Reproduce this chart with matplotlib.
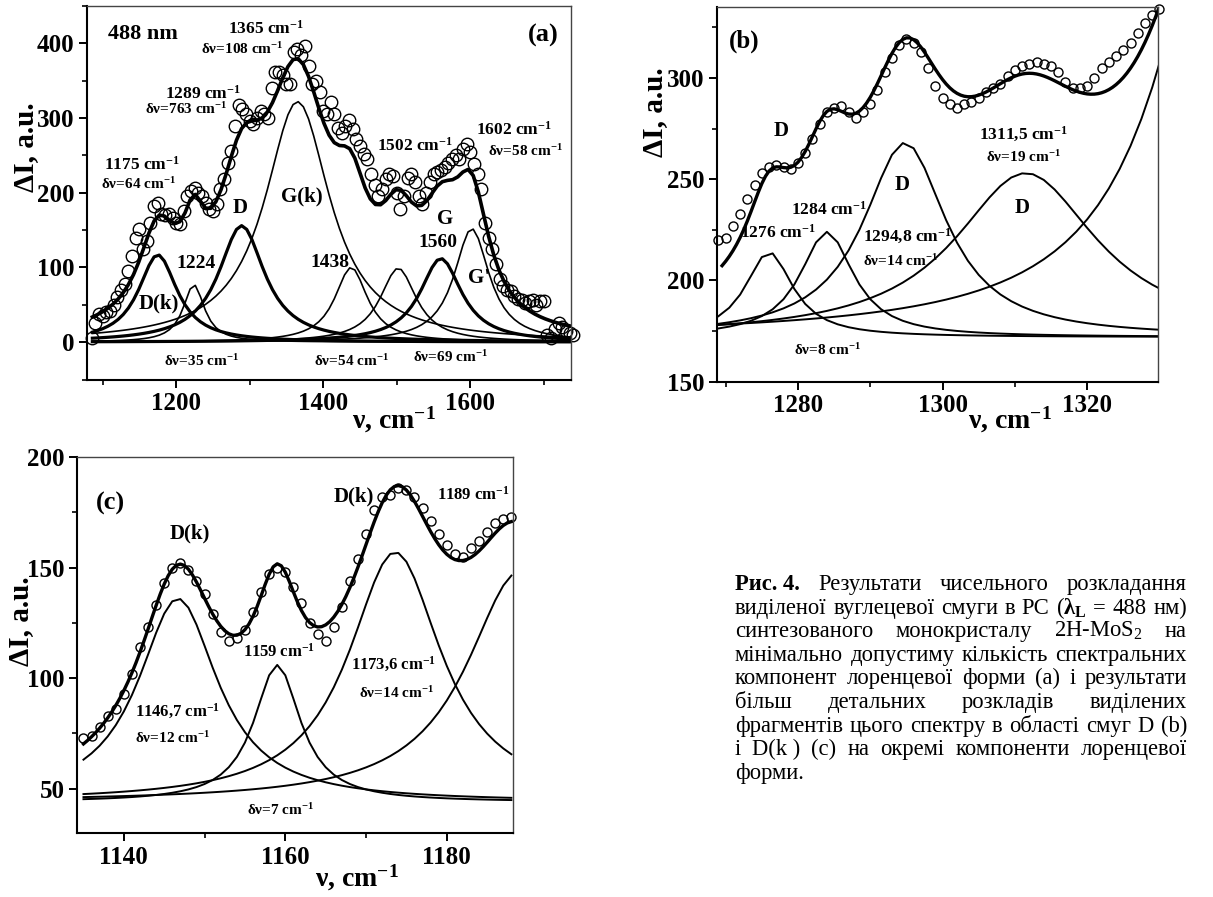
import numpy as np
import matplotlib.pyplot as plt
from matplotlib.ticker import MultipleLocator

plt.rcParams['font.family'] = ['Liberation Serif', 'DejaVu Serif']
plt.rcParams['font.weight'] = 'bold'
plt.rcParams['mathtext.fontset'] = 'custom'
plt.rcParams['mathtext.rm'] = 'Liberation Serif:weight=normal'
plt.rcParams['mathtext.it'] = 'Liberation Serif:style=italic:weight=normal'
plt.rcParams['mathtext.bf'] = 'Liberation Serif:weight=bold'
plt.rcParams['mathtext.default'] = 'bf'

CM = r' cm$^{-1}$'

# (a) carbon band, 488 nm excitation
nu_a = np.arange(1085, 1741, 5)
I_a = [5, 25, 38, 35, 40, 42, 50, 60, 70, 78,
       95, 115, 140, 152, 125, 135, 160, 182, 186, 172,
       170, 172, 166, 160, 158, 175, 195, 203, 207, 200,
       195, 186, 178, 175, 185, 205, 218, 240, 256, 290,
       318, 312, 305, 296, 292, 300, 310, 305, 300, 340,
       362, 362, 358, 345, 345, 388, 392, 385, 397, 370,
       345, 350, 335, 310, 305, 322, 305, 287, 280, 290,
       298, 285, 272, 262, 252, 245, 225, 210, 195, 205,
       218, 225, 222, 200, 178, 195, 220, 225, 215, 195,
       185, 200, 215, 225, 228, 230, 235, 240, 245, 250,
       245, 258, 265, 255, 238, 225, 205, 160, 140, 125,
       105, 85, 75, 70, 68, 62, 58, 56, 52, 55,
       56, 50, 55, 55, 10, 5, 18, 25, 20, 15,
       12, 10]
pos_a = [1175, 1224, 1289, 1365, 1438, 1502, 1560, 1602]
fwhm_a = [64, 35, 76, 108, 54, 60, 69, 58]
amp_a = [117, 77, 156, 322, 100, 99, 112, 152]
thick_a = [True, False, True, False, False, False, True, False]
base_a = 0

# (b) D band detail
nu_b = np.arange(1269, 1331)
I_b = [220, 221, 227, 233, 240, 247, 253, 256, 257, 256,
       255, 258, 263, 270, 277, 283, 285, 286, 283, 280,
       283, 287, 294, 303, 310, 316, 319, 317, 313, 305,
       296, 290, 287, 285, 287, 288, 290, 293, 295, 297,
       301, 304, 306, 307, 308, 307, 306, 303, 298, 295,
       295, 296, 300, 305, 308, 311, 314, 317, 322, 327,
       331, 334]
pos_b = [1276, 1284, 1294.8, 1311.5, 1341]
fwhm_b = [8, 9, 14, 24, 22]
amp_b = [42, 52, 96, 81, 270]
base_b = 172

# (c) D(k) band detail
nu_c = np.arange(1135, 1189)
I_c = [73, 74, 78, 83, 86, 93, 102, 114, 123, 133,
       143, 150, 152, 149, 144, 138, 129, 121, 117, 118,
       122, 130, 139, 147, 150, 148, 141, 134, 125, 120,
       117, 123, 132, 144, 154, 165, 176, 182, 183, 186,
       185, 182, 177, 171, 165, 160, 156, 155, 159, 162,
       166, 170, 172, 173]
pos_c = [1146.7, 1159, 1173.6, 1189]
fwhm_c = [12, 7, 14, 16]
amp_c = [92, 62, 113, 104]
base_c = 44

caption = [
    ['Рис. 4.', 'Результати', 'чисельного', 'розкладання'],
    ['виділеної', 'вуглецевої', 'смуги', 'в', 'РС',
     r'($\mathbf{λ}_\mathbf{L}$', '=', '488', 'нм)'],
    ['синтезованого', 'монокристалу', r'2H-MoS$_\mathrm{2}$', 'на'],
    ['мінімально', 'допустиму', 'кількість', 'спектральних'],
    ['компонент', 'лоренцевої', 'форми', '(a)', 'і', 'результати'],
    ['більш', 'детальних', 'розкладів', 'виділених'],
    ['фрагментів', 'цього', 'спектру', 'в', 'області', 'смуг', 'D', '(b)'],
    ['і', 'D(k )', '(c)', 'на', 'окремі', 'компоненти', 'лоренцевої'],
    ['форми.'],
]


def lorentz(x, x0, fwhm, amp):
    return amp / (1 + 4 * ((x - x0) / fwhm) ** 2)


W, H = 1213, 897
fig = plt.figure(figsize=(W / 100, H / 100), dpi=100)


def add_axes_px(l, t, r, b):
    return fig.add_axes([l / W, 1 - b / H, (r - l) / W, (b - t) / H])


def style(ax, xstep, ystep):
    ax.xaxis.set_major_locator(MultipleLocator(xstep))
    ax.xaxis.set_minor_locator(MultipleLocator(xstep / 2))
    ax.yaxis.set_major_locator(MultipleLocator(ystep))
    ax.yaxis.set_minor_locator(MultipleLocator(ystep / 2))
    ax.tick_params(which='major', direction='out', length=6, width=1.4,
                   labelsize=18, pad=3)
    ax.tick_params(which='minor', direction='out', length=3.5, width=1.2)
    ax.tick_params(which='both', top=False, right=False)
    for s in ('left', 'bottom'):
        ax.spines[s].set_linewidth(1.5)
    for s in ('top', 'right'):
        ax.spines[s].set_linewidth(1.0)
        ax.spines[s].set_color('#444444')


def note(ax, x, y, s, size, ha='center'):
    ax.text(x, y, s, fontsize=size, ha=ha, va='center', fontweight='bold')


def fig_text(x, y, s, size, rot=0):
    fig.text(x / W, 1 - y / H, s, fontsize=size, rotation=rot,
             ha='center', va='center', fontweight='bold')


# ---------- (a) ----------
ax = add_axes_px(87, 6, 571, 379.5)
ax.plot(nu_a, I_a, 'o', ms=9, mfc='none', mec='k', mew=1.0, clip_on=False)
xa = np.arange(1086, 1741, 7.0)
fit_a = np.full_like(xa, base_a)
for p, w, a, thick in zip(pos_a, fwhm_a, amp_a, thick_a):
    comp = lorentz(xa, p, w, a)
    fit_a += comp
    ax.plot(xa, base_a + comp, 'k-', lw=2.3 if thick else 1.2)
ax.plot(xa, fit_a, 'k-', lw=2.6)
ax.set_xlim(1078.7, 1737)
ax.set_ylim(-50, 450)
style(ax, 200, 100)

note(ax, 1107.9, 412, '488 nm', 16, ha='left')
note(ax, 1720, 410, '(a)', 19, ha='right')
note(ax, 1322.7, 420, '1365' + CM, 12.5)
note(ax, 1289.8, 392, 'δν=108' + CM, 11)
note(ax, 1236.6, 332, '1289' + CM, 12.5)
note(ax, 1213.9, 312, 'δν=763' + CM, 11)
note(ax, 1525, 263, '1502' + CM, 12.5)
note(ax, 1659.5, 285, '1602' + CM, 12.5)
note(ax, 1674.5, 256, 'δν=58' + CM, 11)
note(ax, 1153, 238, '1175' + CM, 12.5)
note(ax, 1148, 212, 'δν=64' + CM, 11)
note(ax, 1370.9, 195, 'G(k)', 15)
note(ax, 1287.3, 180, 'D', 15)
note(ax, 1565.8, 165, 'G', 15)
note(ax, 1555.7, 133, '1560', 14)
note(ax, 1226.5, 105, '1224', 14)
note(ax, 1408.9, 106, '1438', 14)
note(ax, 1611.4, 86, "G'", 15)
note(ax, 1175.9, 52, 'D(k)', 15)
note(ax, 1234, -25, 'δν=35' + CM, 11)
note(ax, 1439, -25, 'δν=54' + CM, 11)
note(ax, 1573.4, -20, 'δν=69' + CM, 11)

# ---------- (b) ----------
ax = add_axes_px(717, 7, 1158, 381.7)
ax.plot(nu_b, I_b, 'o', ms=6.5, mfc='none', mec='k', mew=1.0, clip_on=False)
xb = np.arange(1269, 1330.6, 1.5)
for p, w, a in zip(pos_b, fwhm_b, amp_b):
    ax.plot(xb, base_b + lorentz(xb, p, w, a), 'k-', lw=1.4)
xf = np.arange(1269.5, 1330.1, 0.5)
fit_b = base_b + sum(lorentz(xf, p, w, a) for p, w, a in zip(pos_b, fwhm_b, amp_b))
ax.plot(xf, fit_b, 'k-', lw=2.4)
ax.set_xlim(1268.8, 1329.8)
ax.set_ylim(150, 335)
style(ax, 20, 50)

note(ax, 1272.6, 318, '(b)', 18)
note(ax, 1277.7, 274, 'D', 15)
note(ax, 1294.4, 247, 'D', 15)
note(ax, 1311, 236, 'D', 15)
note(ax, 1311.2, 272, '1311,5' + CM, 12.5)
note(ax, 1311.2, 261, 'δν=19' + CM, 11)
note(ax, 1284.3, 235, '1284' + CM, 12.5)
note(ax, 1277.2, 223.4, '1276' + CM, 12.5)
note(ax, 1295.1, 221.7, '1294,8' + CM, 12.5)
note(ax, 1294.2, 209.4, 'δν=14' + CM, 11)
note(ax, 1284.1, 165.8, 'δν=8' + CM, 11)

# ---------- (c) ----------
ax = add_axes_px(77, 457, 513, 833)
ax.plot(nu_c, I_c, 'o', ms=6.5, mfc='none', mec='k', mew=1.0, clip_on=False)
xc = np.arange(1135, 1188.1, 1.0)
for p, w, a in zip(pos_c, fwhm_c, amp_c):
    ax.plot(xc, base_c + lorentz(xc, p, w, a), 'k-', lw=1.4)
xf = np.arange(1135, 1188.05, 0.5)
fit_c = base_c + sum(lorentz(xf, p, w, a) for p, w, a in zip(pos_c, fwhm_c, amp_c))
ax.plot(xf, fit_c, 'k-', lw=2.4)
ax.set_xlim(1134.2, 1188.2)
ax.set_ylim(30, 200)
style(ax, 20, 50)

note(ax, 1138.3, 179, '(c)', 19)
note(ax, 1148.2, 165.5, 'D(k)', 15)
note(ax, 1168.5, 182, 'D(k)', 15)
note(ax, 1183.3, 182.8, '1189' + CM, 12)
note(ax, 1159.2, 112, '1159' + CM, 12)
note(ax, 1173.4, 106, '1173,6' + CM, 12)
note(ax, 1173.8, 93.2, 'δν=14' + CM, 11)
note(ax, 1146.6, 85, '1146,7' + CM, 12)
note(ax, 1146, 72.9, 'δν=12' + CM, 11)
note(ax, 1159.4, 40.5, 'δν=7' + CM, 11)

# axis titles
fig_text(26, 147, 'ΔI, a.u.', 21, rot=90)
fig_text(655, 112, 'ΔI, a.u.', 21, rot=90)
fig_text(21, 621, 'ΔI, a.u.', 21, rot=90)
fig_text(394, 420, r'ν, cm$^{-1}$', 20)
fig_text(1010, 420, r'ν, cm$^{-1}$', 20)
fig_text(357, 878, r'ν, cm$^{-1}$', 20)

# justified caption block
cap_left, cap_right = 735, 1187
cap_y0, cap_dy = 590, 23.6
min_gap = 4.5
renderer = fig.canvas.get_renderer()
for i, words in enumerate(caption):
    y = 1 - (cap_y0 + i * cap_dy) / H
    items = []
    for j, word in enumerate(words):
        wgt = 'bold' if (i == 0 and j == 0) else 'normal'
        items.append(fig.text(0, y, word, fontsize=16.3, fontweight=wgt,
                              ha='left', va='baseline'))
    widths = [t.get_window_extent(renderer).width for t in items]
    if i < len(caption) - 1 and len(items) > 1:
        gap = (cap_right - cap_left - sum(widths)) / (len(items) - 1)
        gap = max(gap, min_gap)
    else:
        gap = min_gap
    x = cap_left
    for t, w in zip(items, widths):
        t.set_x(x / W)
        x += w + gap

fig.savefig('out.png', dpi=100)
